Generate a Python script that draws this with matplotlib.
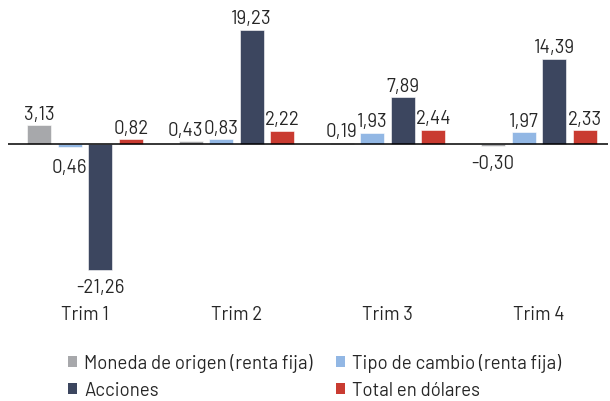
import matplotlib
matplotlib.use("Agg")
import matplotlib.pyplot as plt
from matplotlib.patches import Patch
import numpy as np

plt.rcParams['font.family'] = ['Barlow', 'Roboto', 'DejaVu Sans']

categories = ["Trim 1", "Trim 2", "Trim 3", "Trim 4"]
series_names = ["Moneda de origen (renta fija)", "Tipo de cambio (renta fija)",
                "Acciones", "Total en dólares"]
moneda = [3.13, 0.43, 0.19, -0.30]
tipo_cambio = [-0.46, 0.83, 1.93, 1.97]
acciones = [-21.26, 19.23, 7.89, 14.39]
total = [0.82, 2.22, 2.44, 2.33]
labels_moneda = ["3,13", "0,43", "0,19", "-0,30"]
labels_tipo = ["0,46", "0,83", "1,93", "1,97"]
labels_acciones = ["-21,26", "19,23", "7,89", "14,39"]
labels_total = ["0,82", "2,22", "2,44", "2,33"]

colors = ["#a7a8ab", "#92b7e4", "#3c465f", "#c93b31"]

W, H = 610, 402
fig = plt.figure(figsize=(W / 100, H / 100), dpi=100)
ax = fig.add_axes([8 / W, (H - 300) / H, 600 / W, 300 / H])

series = [moneda, tipo_cambio, acciones, total]
series_labels = [labels_moneda, labels_tipo, labels_acciones, labels_total]
x = np.arange(len(categories))
step = 0.2016
width = 0.159
fs = 13.4
nudges = {(1, 0): (-5, 0)}

for i, (vals, labs, col, name) in enumerate(zip(series, series_labels, colors, series_names)):
    xs = x + (i - 1.5) * step
    ax.bar(xs, vals, width=width, color=col, edgecolor="white", linewidth=0.4, label=name)
    for j, (xx, v, lab) in enumerate(zip(xs, vals, labs)):
        dx, dy = nudges.get((j, i), (0, 0))
        if v >= 0:
            off = 6.5
        else:
            off = -22 if i != 1 else -25
        ax.annotate(lab, (xx, v), xytext=(dx, off + dy), textcoords="offset pixels",
                    ha="center", va="baseline", fontsize=fs, color="#262626")

ax.axhline(0, color="black", linewidth=1.1, zorder=5)
ax.set_xlim(-0.509, 3.457)
ax.set_ylim(-26.14, 24.45)
for s in ax.spines.values():
    s.set_visible(False)
ax.set_yticks([])
ax.set_xticks(x)
ax.set_xticklabels(categories, fontsize=fs, color="#262626")
ax.tick_params(axis="x", length=0, pad=4.5)

order = [0, 2, 1, 3]
handles = [Patch(facecolor=colors[k], edgecolor="none") for k in order]
fig.legend(handles, [series_names[k] for k in order], ncol=2, loc="upper left",
           bbox_to_anchor=(68 / W, (H - 354) / H), frameon=False, fontsize=fs,
           handlelength=0.5, handleheight=0.5, handletextpad=0.38,
           columnspacing=1.24, borderpad=0, borderaxespad=0, labelspacing=0.5,
           labelcolor="#262626")

fig.savefig("out.png", dpi=100)
